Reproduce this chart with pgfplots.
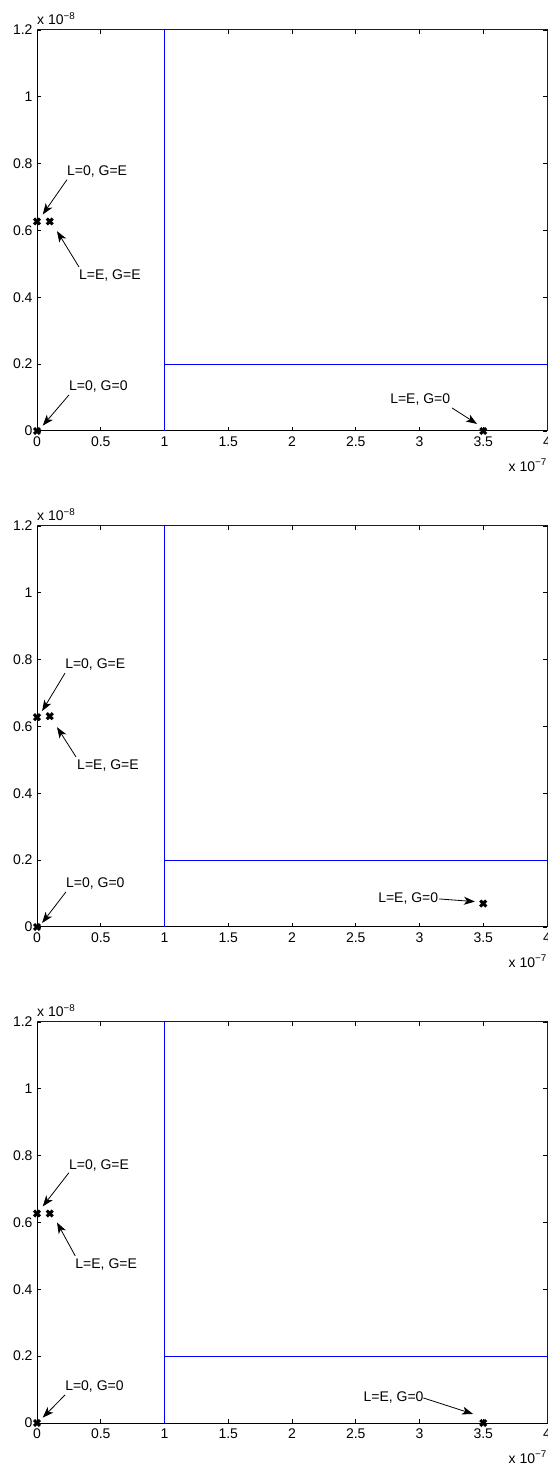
\documentclass[border=0pt]{standalone}
\usepackage{pgfplots}
\pgfplotsset{compat=1.18}
\usepackage{fontspec}
\setmainfont{Liberation Sans}
\usetikzlibrary{arrows.meta}
\newcommand{\fs}{\fontsize{14}{16}\selectfont}
\pgfplotsset{
  myax/.style={
    scale only axis, width=510pt, height=401pt,
    xmin=0, xmax=4, ymin=0, ymax=1.2,
    xtick={0,0.5,...,4}, ytick={0,0.2,...,1.2},
    xticklabels={0,0.5,1,1.5,2,2.5,3,3.5,4},
    yticklabels={0,0.2,0.4,0.6,0.8,1,1.2},
    tick align=inside, major tick length=4pt,
    tick style={black, line width=0.8pt},
    axis line style={black, line width=1pt},
    /pgf/number format/assume math mode=true,
    tick label style={font=\fs},
    xticklabel style={yshift=-2pt},
    yticklabel style={xshift=-1pt},
    clip=false,
    anchor=south west,
  },
  bl/.style={blue, line width=1pt, no marks},
  mk/.style={only marks, mark=x, mark size=4.2pt, black, line width=3pt},
}
\tikzset{lab/.style={anchor=west, inner sep=0pt, font=\fs},
  arr/.style={-{Stealth[length=11pt,width=8pt,inset=3pt]}, line width=0.8pt}}
\begin{document}
\begin{tikzpicture}[x=1pt,y=1pt]
\path[use as bounding box] (0,0) rectangle (548,1470);
% ---------- panel 1
\begin{axis}[myax, at={(37pt,1039pt)}]
\addplot[bl] coordinates {(1,0) (1,1.2)};
\addplot[bl] coordinates {(0,1.2) (4,1.2)};
\addplot[bl] coordinates {(4,0) (4,1.2)};
\addplot[bl] coordinates {(1,0.2) (4,0.2)};
\addplot[mk] coordinates {(0,0.627) (0.1,0.627) (0,0) (3.5,0)};
\node[lab] at (axis cs:0.235,0.775) {L=0, G=E};
\draw[arr] (axis cs:0.235,0.752) -- (axis cs:0.045,0.648);
\node[lab] at (axis cs:0.329,0.464) {L=E, G=E};
\draw[arr] (axis cs:0.329,0.491) -- (axis cs:0.157,0.598);
\node[lab] at (axis cs:0.251,0.132) {L=0, G=0};
\draw[arr] (axis cs:0.251,0.108) -- (axis cs:0.045,0.016);
\node[lab] at (axis cs:2.769,0.093) {L=E, G=0};
\draw[arr] (axis cs:3.255,0.069) -- (axis cs:3.451,0.021);
\node[anchor=south west, inner sep=0pt, font=\fs] at (rel axis cs:0,1) [yshift=5pt] {x 10\textsuperscript{−8}};
\node[anchor=north east, inner sep=0pt, font=\fs] at (rel axis cs:1,0) [yshift=-28pt] {x 10\textsuperscript{−7}};
\end{axis}
% ---------- panel 2
\begin{axis}[myax, at={(37pt,543pt)}]
\addplot[bl] coordinates {(1,0) (1,1.2)};
\addplot[bl] coordinates {(0,1.2) (4,1.2)};
\addplot[bl] coordinates {(4,0) (4,1.2)};
\addplot[bl] coordinates {(1,0.2) (4,0.2)};
\addplot[mk] coordinates {(0,0.628) (0.1,0.631) (0,0) (3.5,0.07)};
\node[lab] at (axis cs:0.22,0.784) {L=0, G=E};
\draw[arr] (axis cs:0.22,0.760) -- (axis cs:0.04,0.646);
\node[lab] at (axis cs:0.314,0.482) {L=E, G=E};
\draw[arr] (axis cs:0.306,0.509) -- (axis cs:0.157,0.598);
\node[lab] at (axis cs:0.227,0.129) {L=0, G=0};
\draw[arr] (axis cs:0.227,0.105) -- (axis cs:0.04,0.012);
\node[lab] at (axis cs:2.675,0.084) {L=E, G=0};
\draw[arr] (axis cs:3.153,0.084) -- (axis cs:3.435,0.076);
\node[anchor=south west, inner sep=0pt, font=\fs] at (rel axis cs:0,1) [yshift=5pt] {x 10\textsuperscript{−8}};
\node[anchor=north east, inner sep=0pt, font=\fs] at (rel axis cs:1,0) [yshift=-28pt] {x 10\textsuperscript{−7}};
\end{axis}
% ---------- panel 3
\begin{axis}[myax, at={(37pt,47pt)}]
\addplot[bl] coordinates {(1,0) (1,1.2)};
\addplot[bl] coordinates {(0,1.2) (4,1.2)};
\addplot[bl] coordinates {(4,0) (4,1.2)};
\addplot[bl] coordinates {(1,0.2) (4,0.2)};
\addplot[mk] coordinates {(0,0.627) (0.1,0.627) (0,0) (3.5,0)};
\node[lab] at (axis cs:0.25,0.772) {L=0, G=E};
\draw[arr] (axis cs:0.25,0.749) -- (axis cs:0.045,0.648);
\node[lab] at (axis cs:0.3,0.473) {L=E, G=E};
\draw[arr] (axis cs:0.3,0.50) -- (axis cs:0.157,0.60);
\node[lab] at (axis cs:0.22,0.108) {L=0, G=0};
\draw[arr] (axis cs:0.22,0.084) -- (axis cs:0.045,0.016);
\node[lab] at (axis cs:2.56,0.075) {L=E, G=0};
\draw[arr] (axis cs:3.03,0.075) -- (axis cs:3.42,0.027);
\node[anchor=south west, inner sep=0pt, font=\fs] at (rel axis cs:0,1) [yshift=5pt] {x 10\textsuperscript{−8}};
\node[anchor=north east, inner sep=0pt, font=\fs] at (rel axis cs:1,0) [yshift=-28pt] {x 10\textsuperscript{−7}};
\end{axis}
\end{tikzpicture}
\end{document}
